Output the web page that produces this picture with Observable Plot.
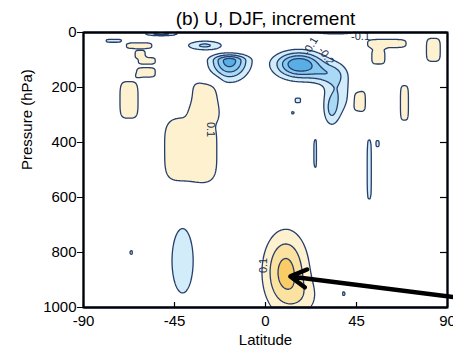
<!DOCTYPE html>
<html><head><meta charset="utf-8">
<script src="https://cdn.jsdelivr.net/npm/d3@7"></script>
<script src="https://cdn.jsdelivr.net/npm/@observablehq/plot@0.6"></script>
<style>body{margin:0;background:#fff}</style>
</head><body><div id="chart"></div>
<script>
const title = "(b) U, DJF, increment";
const xLabel = "Latitude";
const yLabel = "Pressure (hPa)";
const xTicks = [-90, -45, 0, 45, 90];
const yTicks = [0, 200, 400, 600, 800, 1000];

// Features (centre latitude, centre pressure, amplitude, spreads, profile)
const blobLat   = [10, 20, -30, -37, -67.5, -62.5, -62, -58.7, -59, 60, 55.8, 83, 46.2, 68.7,
                   -17.8, 16.5, 30, 35.5, 32.5, -41, -30, -75, -51.5, 34.7, 24.6, 51.3, 55.4, 16, 13.5, 38.7, -66.4];
const blobP     = [872, 965, 240, 430, 245, 48, 78, 103, 145, 40, 88, 63, 250, 256,
                   102, 115, 150, 215, 285, 830, 47, 30, 5, 0, 440, 498, 404, 247, 292, 950, 800];
const blobAmp   = [0.34, 0.08, 0.14, 0.15, 0.15, 0.15, 0.15, 0.15, 0.15, 0.15, 0.15, 0.15, 0.15, 0.15,
                   -0.45, -0.5, -0.17, -0.18, -0.15, -0.15, -0.22, -0.15, -0.25, -0.22, -0.15, -0.15, -0.15, -0.15, -0.13, -0.13, -0.13];
const blobSLat  = [7.5, 6, 6.6, 13.6, 4.7, 6.6, 2.6, 4.4, 4.7, 10, 3.4, 3.6, 3.4, 2.1,
                   6.3, 8, 6, 4.8, 2.6, 5.8, 6.4, 4, 5.8, 6.9, 0.7, 1.1, 0.8, 1.4, 0.7, 0.7, 0.7];
const blobSPUp  = [100, 50, 65, 126, 70, 11, 13, 12.5, 18, 16, 28, 44, 40, 66,
                   16, 30, 25, 65, 40, 130, 12.3, 6, 5, 4, 53, 113, 12, 9, 5, 8, 8];
const blobSPDown= [100, 50, 65, 126, 70, 11, 13, 12.5, 18, 16, 28, 44, 40, 66,
                   46, 35, 25, 65, 40, 130, 12.3, 6, 5, 4, 53, 113, 12, 9, 5, 8, 8];
const blobPow   = [1, 1, 2, 2, 2, 2, 2, 2, 2, 2, 2, 2, 2, 2,
                   1, 1, 1, 1, 1, 1, 1, 2, 1, 1, 2, 2, 2, 2, 2, 2, 2];

const fillThresholds = [-0.4, -0.3, -0.2, -0.1, 0.1, 0.2, 0.3];
const fillColors = ["#86c8f0", "#aad9f5", "#d2ecfa", "#ffffff", "#fdf1cf", "#fce2a0", "#f9cc66"];
const coreColor = "#5aaee6";
const lineThresholds = [-0.4, -0.3, -0.2, -0.1, 0.1, 0.2, 0.3];

const labelText = ["0.1", "0.1", "-0.1", "-0.1", "-0.2"];
const labelLat  = [-27, -0.8, 47, 22.2, 30];
const labelP    = [353, 847, 15, 50, 85];
const labelRot  = [90, -90, 0, -60, 55];

const arrowFrom = [99, 968];
const arrowTo   = [12.3, 887];

function field(x, y) {
  let v = 0;
  for (let i = 0; i < blobLat.length; i++) {
    const dx = Math.abs(x - blobLat[i]) / blobSLat[i];
    const sp = y < blobP[i] ? blobSPUp[i] : blobSPDown[i];
    const dy = Math.abs(y - blobP[i]) / sp;
    if (dx > 6 || dy > 6) continue;
    const k = 2 * blobPow[i];
    v += blobAmp[i] * Math.exp(-0.5 * (Math.pow(dx, k) + Math.pow(dy, k)));
  }
  return v;
}

const labels = labelText.map((t, i) => ({t, lat: labelLat[i], p: labelP[i], r: labelRot[i]}));
const navy = "#253e6b";

const chart = Plot.plot({
  width: 453, height: 348,
  marginLeft: 83, marginRight: 6, marginTop: 32, marginBottom: 41,
  style: {fontFamily: "'Liberation Sans', Arial, Helvetica, sans-serif", fontSize: "15px", background: "white", overflow: "visible"},
  x: {domain: [-90, 90]},
  y: {domain: [0, 1000], reverse: true},
  color: {type: "ordinal", domain: fillThresholds, range: fillColors},
  marks: [
    Plot.frame({fill: coreColor, stroke: null}),
    Plot.contour({value: field, x1: -90, x2: 90, y1: 0, y2: 1000, thresholds: fillThresholds,
      fill: "value", stroke: "none", pixelSize: 1}),
    Plot.contour({value: field, x1: -90, x2: 90, y1: 0, y2: 1000, thresholds: lineThresholds,
      fill: "none", stroke: navy, strokeWidth: 1.3, pixelSize: 1}),
    Plot.text(labels, {x: "lat", y: "p", text: "t", rotate: "r", fontSize: 11, fill: "#1b2f55"}),
    Plot.axisX(xTicks, {tickSize: 0, tickPadding: 8, fontSize: 15, label: null, tickFormat: d => String(d)}),
    Plot.axisY(yTicks, {tickSize: 6, tickPadding: 1, fontSize: 15, label: null, tickFormat: d => String(d)}),
    Plot.tickX(xTicks, {x: d => d, insetTop: 270, stroke: "black", strokeWidth: 1.2}),
    Plot.tickY(yTicks, {y: d => d, insetLeft: 357, stroke: "black", strokeWidth: 1.2}),
    Plot.frame({stroke: "black", strokeWidth: 2}),
    Plot.arrow([0], {x1: () => arrowFrom[0], y1: () => arrowFrom[1], x2: () => arrowTo[0], y2: () => arrowTo[1],
      stroke: "black", strokeWidth: 4.5, headLength: 6, headAngle: 60}),
    Plot.text([title], {frameAnchor: "top", dy: -14, fontSize: 19, lineAnchor: "middle"}),
    Plot.text([xLabel], {frameAnchor: "bottom", dy: 33, fontSize: 15, lineAnchor: "middle"}),
    Plot.text([yLabel], {frameAnchor: "left", dx: -56, rotate: -90, fontSize: 15, lineAnchor: "middle"})
  ]
});
document.getElementById("chart").append(chart);
</script>
</body></html>
